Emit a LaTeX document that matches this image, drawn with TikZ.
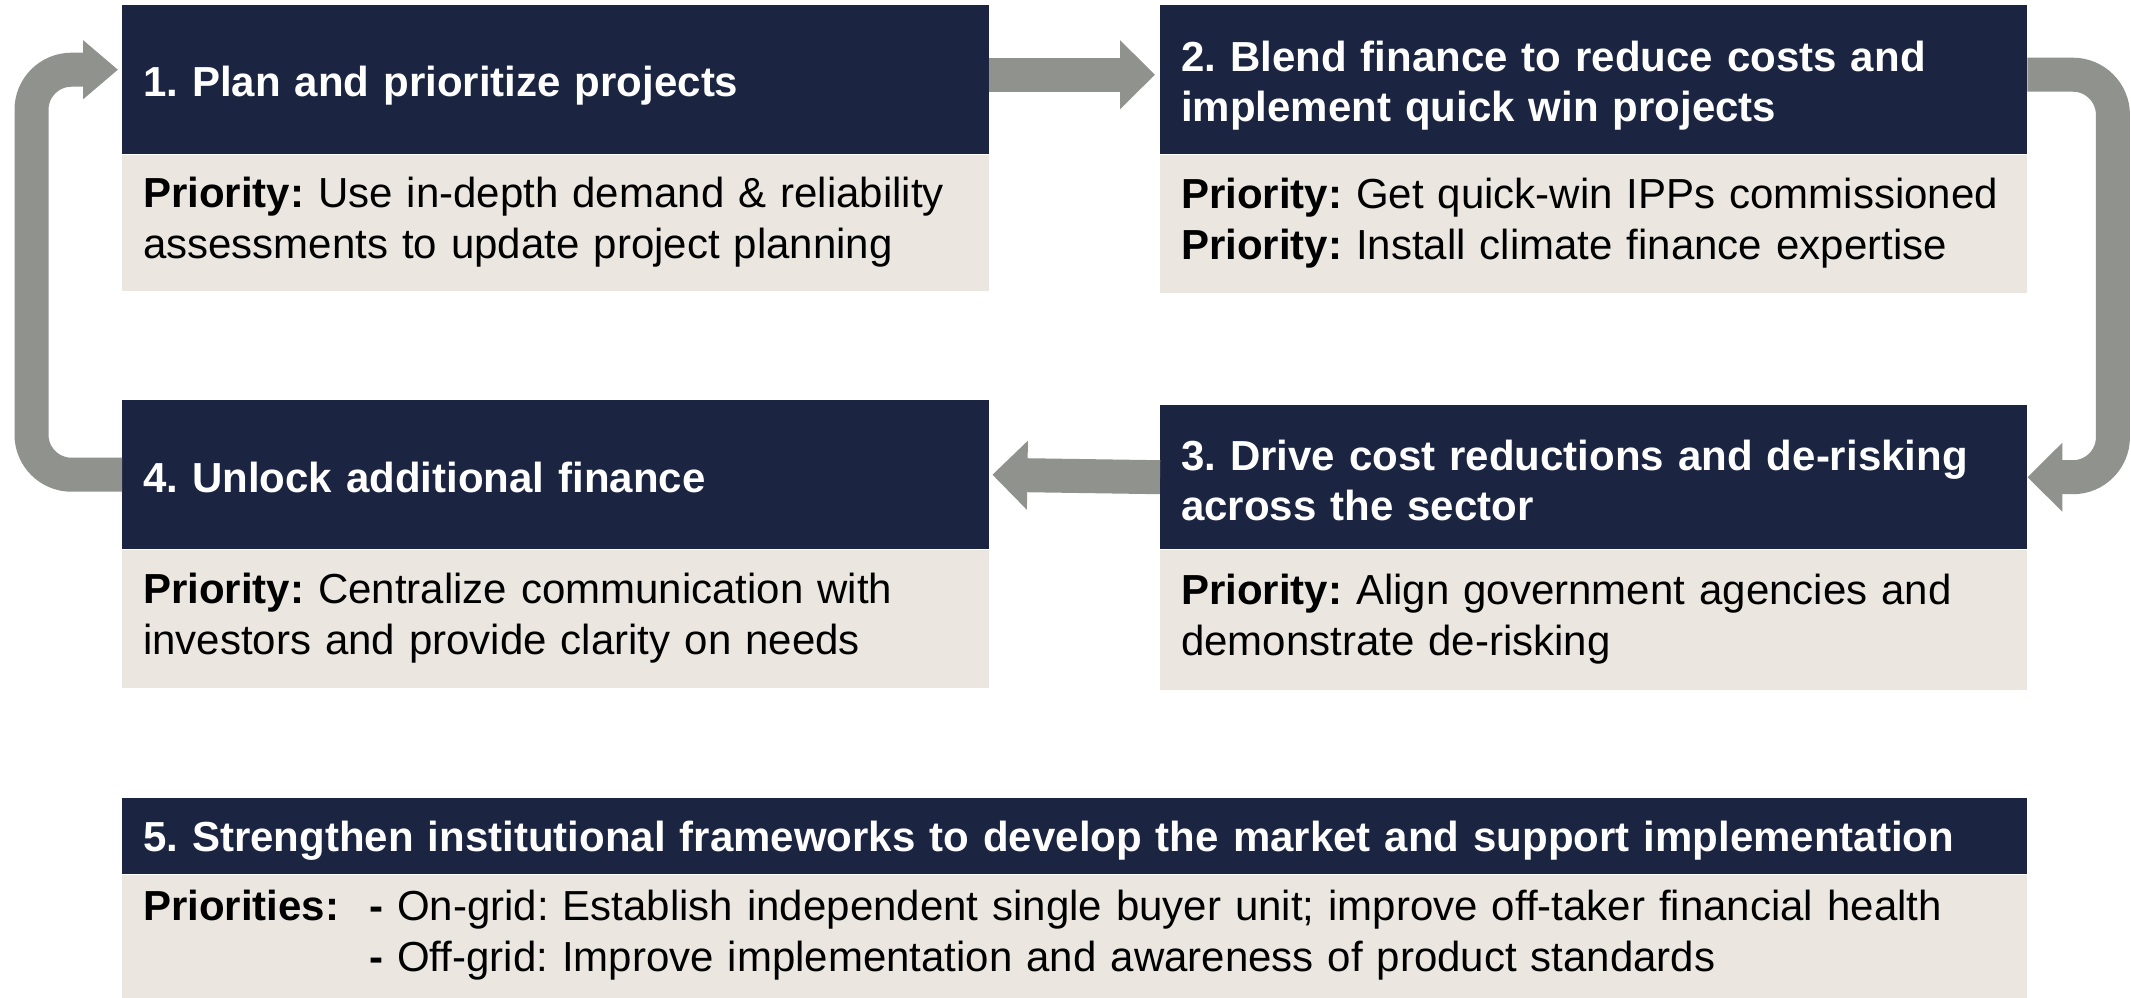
\documentclass[tikz,border=0pt]{standalone}
\usepackage{fontspec}
\setmainfont{Liberation Sans}
\frenchspacing
\usetikzlibrary{arrows.meta, calc, positioning}

\definecolor{navy}{RGB}{27,37,65}
\definecolor{sand}{RGB}{235,231,224}
\definecolor{flowgray}{RGB}{144,146,141}

\tikzset{
  head/.style={fill=navy, text=white, font=\fontsize{42}{50}\selectfont\bfseries,
    anchor=north west, text width=825pt, inner xsep=21pt, inner ysep=0pt, align=left},
  body/.style={fill=sand, text=black, font=\fontsize{42}{51}\selectfont,
    text width=825pt, inner xsep=21pt, inner ysep=0pt, align=left},
  lower/.style={execute at begin node={\rule{0pt}{#1}}},
  flow/.style={draw=flowgray, line width=34pt, -{Triangle[length=35pt, width=67pt]}},
}

\begin{document}
\begin{tikzpicture}[x=1pt, y=-1pt]
  \useasboundingbox (0,0) rectangle (2131,997);

  % Cajas de los pasos
  \node[head, lower=42pt, minimum height=149pt] (h1) at (122,5) {1. Plan and prioritize projects};
  \node[body, minimum height=136pt, below=0pt of h1] (p1)
    {\textbf{Priority:} Use in-depth demand \& reliability\\assessments to update project planning};

  \node[head, lower=42pt, minimum height=149pt] (h2) at (1160,5) {2. Blend finance to reduce costs and\\implement quick win projects};
  \node[body, minimum height=138pt, below=0pt of h2] (p2)
    {\textbf{Priority:} Get quick-win IPPs commissioned\\\textbf{Priority:} Install climate finance expertise};

  \node[head, lower=37pt, minimum height=144pt] (h3) at (1160,405) {3. Drive cost reductions and de-risking\\across the sector};
  \node[body, minimum height=140pt, below=0pt of h3] (p3)
    {\textbf{Priority:} Align government agencies and\\demonstrate de-risking};

  \node[head, lower=35pt, minimum height=149pt] (h4) at (122,400) {4. Unlock additional finance};
  \node[body, minimum height=138pt, below=0pt of h4] (p4)
    {\textbf{Priority:} Centralize communication with\\investors and provide clarity on needs};

  % Marco institucional
  \node[head, lower=39pt, minimum height=76pt, text width=1863pt] (h5) at (122,798)
    {5. Strengthen institutional frameworks to develop the market and support implementation};
  \node[body, minimum height=123pt, text width=1863pt, below=0pt of h5] (p5)
    {\begin{tabular}{@{}l@{\hspace{30pt}}l@{}}
      \textbf{Priorities:} & \textbf{-} On-grid: Establish independent single buyer unit; improve off-taker financial health\\
      & \textbf{-} Off-grid: Improve implementation and awareness of product standards
    \end{tabular}};

  % Flechas del ciclo
  \draw[flow] ($(h1.east)+(0,-5)$) -- ($(h2.west)+(-5,-5)$);
  \draw[flow, rounded corners=40pt] ($(h2.east)+(0,-5)$) -- ++(85.5,0) |- (h3.east);
  \draw[flow] (h3.west) -- ($(h4.east)+(3,0)$);
  \draw[flow, rounded corners=40pt, -{Triangle[length=35pt, width=57pt]}]
    (h4.west) -- ++(-90.5,0) |- ($(h1.west)+(-4,-10)$);

\end{tikzpicture}
\end{document}
